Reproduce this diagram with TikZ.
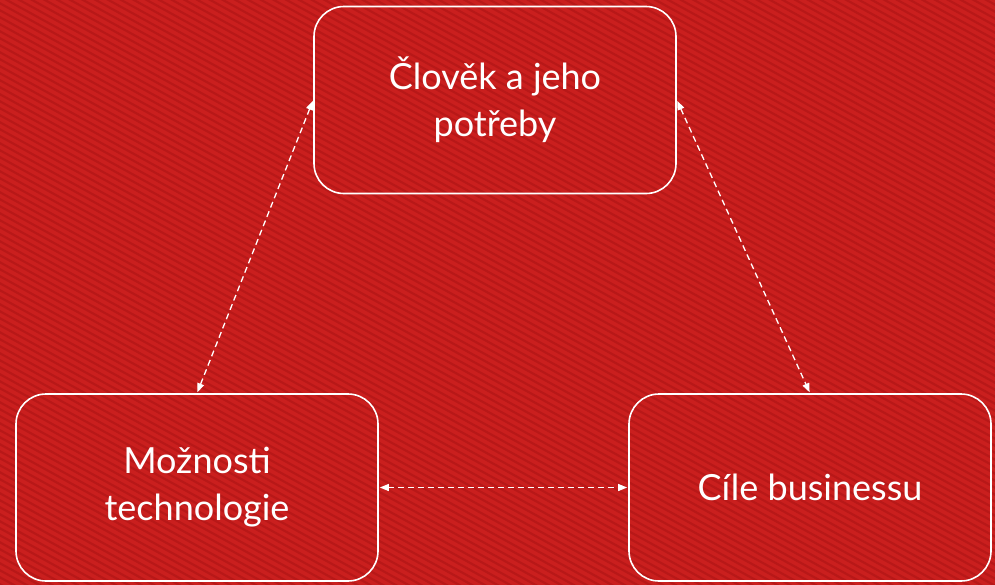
\documentclass[tikz,border=0pt]{standalone}
\usepackage{fontspec}
\setmainfont{Lato}
\usetikzlibrary{arrows.meta}
\definecolor{bgred}{RGB}{202,31,30}
\definecolor{stripered}{RGB}{184,24,24}
\tikzset{
  box/.style={draw=white, line width=1.6pt, rounded corners=30pt, minimum width=362pt, minimum height=187pt, inner sep=0pt, text=white, align=center, font=\fontsize{36}{47}\selectfont},
  link/.style={draw=white, line width=1.3pt, dash pattern=on 6pt off 4pt, {Triangle[length=9pt,width=7pt]}-{Triangle[length=9pt,width=7pt]}, shorten <=1pt, shorten >=1pt}
}
\begin{document}
\begin{tikzpicture}[x=1pt,y=-1pt]
\useasboundingbox (0,0) rectangle (995,584);
\fill[bgred] (-6,-6) rectangle (1001,590);
\begin{scope}
\clip (-6,-6) rectangle (1001,590);
\foreach \c in {-560,-553,...,610}{
  \draw[stripered, line width=2.2pt] (-6,\c) -- (1001,\c+554);
}
\end{scope}
\node[box] (top) at (495,100) {Člověk a jeho\\potřeby};
\node[box] (left) at (197,487.5) {Možnosti\\technologie};
\node[box] (right) at (810,487.5) {Cíle businessu};
\draw[link] (top.west) -- (left.north);
\draw[link] (top.east) -- (right.north);
\draw[link] (left.east) -- (right.west);
\end{tikzpicture}
\end{document}
